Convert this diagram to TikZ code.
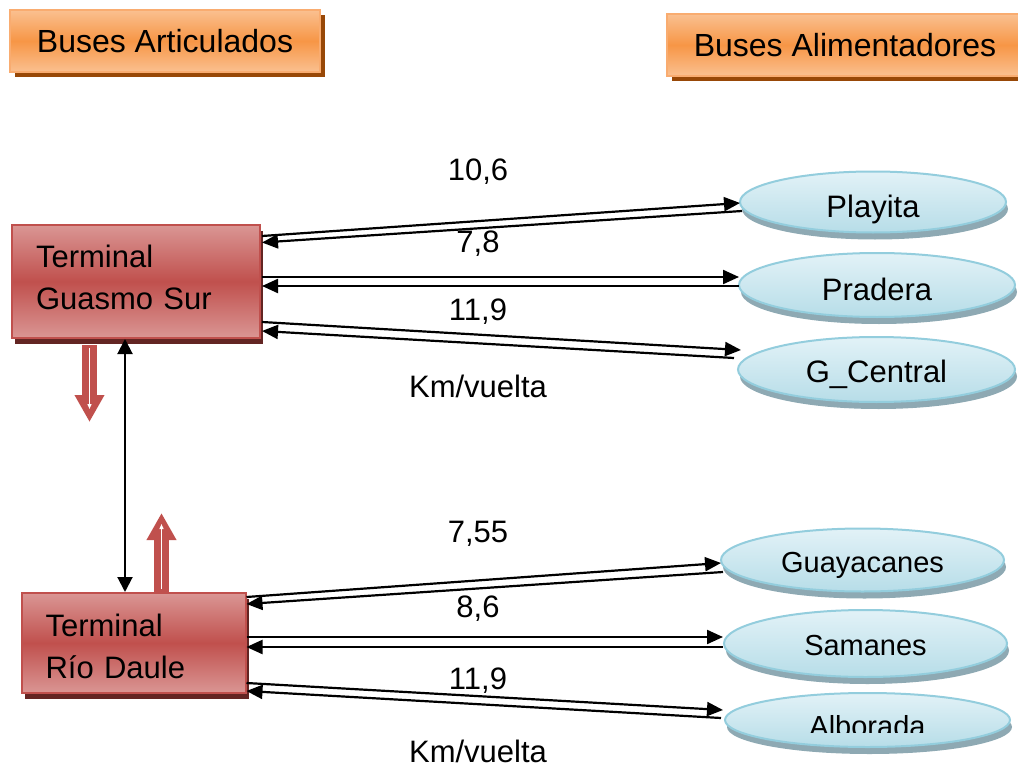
\documentclass[tikz,border=0pt]{standalone}
\usepackage{fontspec}
\setmainfont{Liberation Sans}
\usepackage{xcolor}
\usetikzlibrary{positioning, arrows.meta, shapes.geometric, shadows, calc}

\definecolor{orangeMid}{HTML}{F79646}
\definecolor{orangeLight}{HTML}{FAC090}
\definecolor{orangeLine}{HTML}{F9AC70}
\definecolor{orangeShadow}{HTML}{984807}
\definecolor{redMid}{HTML}{C0504D}
\definecolor{redLight}{HTML}{DA9694}
\definecolor{redShadow}{HTML}{632523}
\definecolor{blueTop}{HTML}{E2F2F7}
\definecolor{blueBot}{HTML}{B7DDE8}
\definecolor{blueLine}{HTML}{93CDDD}
\definecolor{blueShadow}{HTML}{8EA9B3}

\tikzset{
  header/.style={draw=orangeLine, line width=2pt, top color=orangeLight, bottom color=orangeLight, middle color=orangeMid,
    drop shadow={shadow xshift=5pt, shadow yshift=-5pt, fill=orangeShadow, opacity=1},
    font=\fontsize{32}{38}\selectfont, inner sep=0pt},
  terminal/.style={draw=redMid, line width=2pt, top color=redLight, bottom color=redLight, middle color=redMid,
    drop shadow={shadow xshift=3pt, shadow yshift=-6pt, fill=redShadow, opacity=1},
    font=\fontsize{31}{42}\selectfont, align=left, inner xsep=24pt, inner ysep=0pt, text height=22pt},
  feeder/.style={ellipse, draw=blueLine, line width=2pt, top color=blueTop, bottom color=blueBot,
    drop shadow={shadow xshift=2pt, shadow yshift=-7pt, fill=blueShadow, opacity=1},
    inner sep=0pt, text depth=0pt},
  link/.style={line width=2.2pt, -{Triangle[width=14pt,length=16pt]}},
  bigarrow/.style={line width=15pt, draw=redMid, -{Triangle[width=28pt,length=27pt]}},
  thinarrow/.style={line width=1.3pt, draw=white, -{Triangle[width=4pt,length=5pt]}},
  km/.style={font=\fontsize{31}{37}\selectfont}
}

\begin{document}
\begin{tikzpicture}[x=1pt,y=-1pt]
\useasboundingbox (0,0) rectangle (1018,768);
% Headers
\node[header, minimum width=310, minimum height=62] (art) at (165,41) {Buses Articulados};
\node[header, minimum width=356, minimum height=62] (ali) at (845,45) {Buses Alimentadores};
% Terminals
\node[terminal, text width=200, minimum height=113, text depth=51pt] (gs) at (136,281.5) {Terminal\\Guasmo Sur};
\node[terminal, text width=176, minimum height=100, text depth=36pt] (rd) at (133.5,643) {Terminal\\Río Daule};
% Feeder routes
\node[feeder, minimum width=266, minimum height=61, text height=30pt, font=\fontsize{31}{37}\selectfont] (pl) at (873,202) {Playita};
\node[feeder, minimum width=276, minimum height=64, text height=30pt, font=\fontsize{31}{37}\selectfont] (pr) at (877,285) {Pradera};
\node[feeder, minimum width=277, minimum height=65, text height=26pt, font=\fontsize{31}{37}\selectfont] (gc) at (876.5,369.5) {G\_Central};
\node[feeder, minimum width=283, minimum height=63, text height=24pt, font=\fontsize{29}{35}\selectfont] (gy) at (862.5,560) {Guayacanes};
\node[feeder, minimum width=283, minimum height=67, text height=23pt, font=\fontsize{29}{35}\selectfont] (sa) at (865.5,643.5) {Samanes};
\node[feeder, minimum width=285, minimum height=54] (al) at (867.5,720) {};
\begin{scope}
\clip (700,690) rectangle (1018,732);
\node[anchor=base, font=\fontsize{29}{35}\selectfont] (altxt) at (867.5,736) {Alborada};
\end{scope}
% Links Guasmo Sur
\draw[link] ($(gs.east)+(1,-45.5)$) -- ($(pl.west)+(1,1)$);
\draw[link] ($(pl.west)+(3,9)$) -- ($(gs.east)+(1,-39)$);
\draw[link] ($(gs.east)+(1,-4.5)$) -- ($(pr.west)+(1,-8)$);
\draw[link] ($(pr.west)+(1,1)$) -- ($(gs.east)+(1,4.5)$);
\draw[link] ($(gs.east)+(1,40.5)$) -- ($(gc.west)+(4,-19.5)$);
\draw[link] ($(gc.west)+(-3,-11.5)$) -- ($(gs.east)+(1,49.5)$);
% Links Rio Daule
\draw[link] ($(rd.east)+(0,-46)$) -- ($(gy.west)+(1,3)$);
\draw[link] ($(gy.west)+(3,12)$) -- ($(rd.east)+(0,-39)$);
\draw[link] ($(rd.east)+(0,-6)$) -- ($(sa.west)+(0,-6.5)$);
\draw[link] ($(sa.west)+(0,3.5)$) -- ($(rd.east)+(0,4)$);
\draw[link] ($(rd.east)+(0,40)$) -- ($(al.west)+(-1,-10)$);
\draw[link] ($(al.west)+(-3,-2)$) -- ($(rd.east)+(0,48)$);
% Between terminals
\draw[line width=2pt, {Triangle[width=15pt,length=15pt]}-{Triangle[width=15pt,length=15pt]}] ($(gs.south)+(-11,0)$) -- ($(rd.north)+(-8.5,0)$);
\draw[bigarrow] ($(gs.south)+(-46.5,6)$) -- ($(gs.south)+(-46.5,83)$);
\draw[thinarrow] ($(gs.south)+(-46.5,9)$) -- ($(gs.south)+(-46.5,70)$);
\draw[bigarrow] ($(rd.north)+(28,0)$) -- ($(rd.north)+(28,-79)$);
\draw[thinarrow] ($(rd.north)+(28,-3)$) -- ($(rd.north)+(28,-68)$);
% Distances
\node[km] (d1) at (478,172) {10,6};
\node[km] (d2) at (478,244) {7,8};
\node[km] (d3) at (478,312) {11,9};
\node[km] (u1) at (478,386) {Km/vuelta};
\node[km] (d4) at (478,534) {7,55};
\node[km] (d5) at (478,609) {8,6};
\node[km] (d6) at (478,681) {11,9};
\node[km] (u2) at (478,751) {Km/vuelta};
\end{tikzpicture}
\end{document}
